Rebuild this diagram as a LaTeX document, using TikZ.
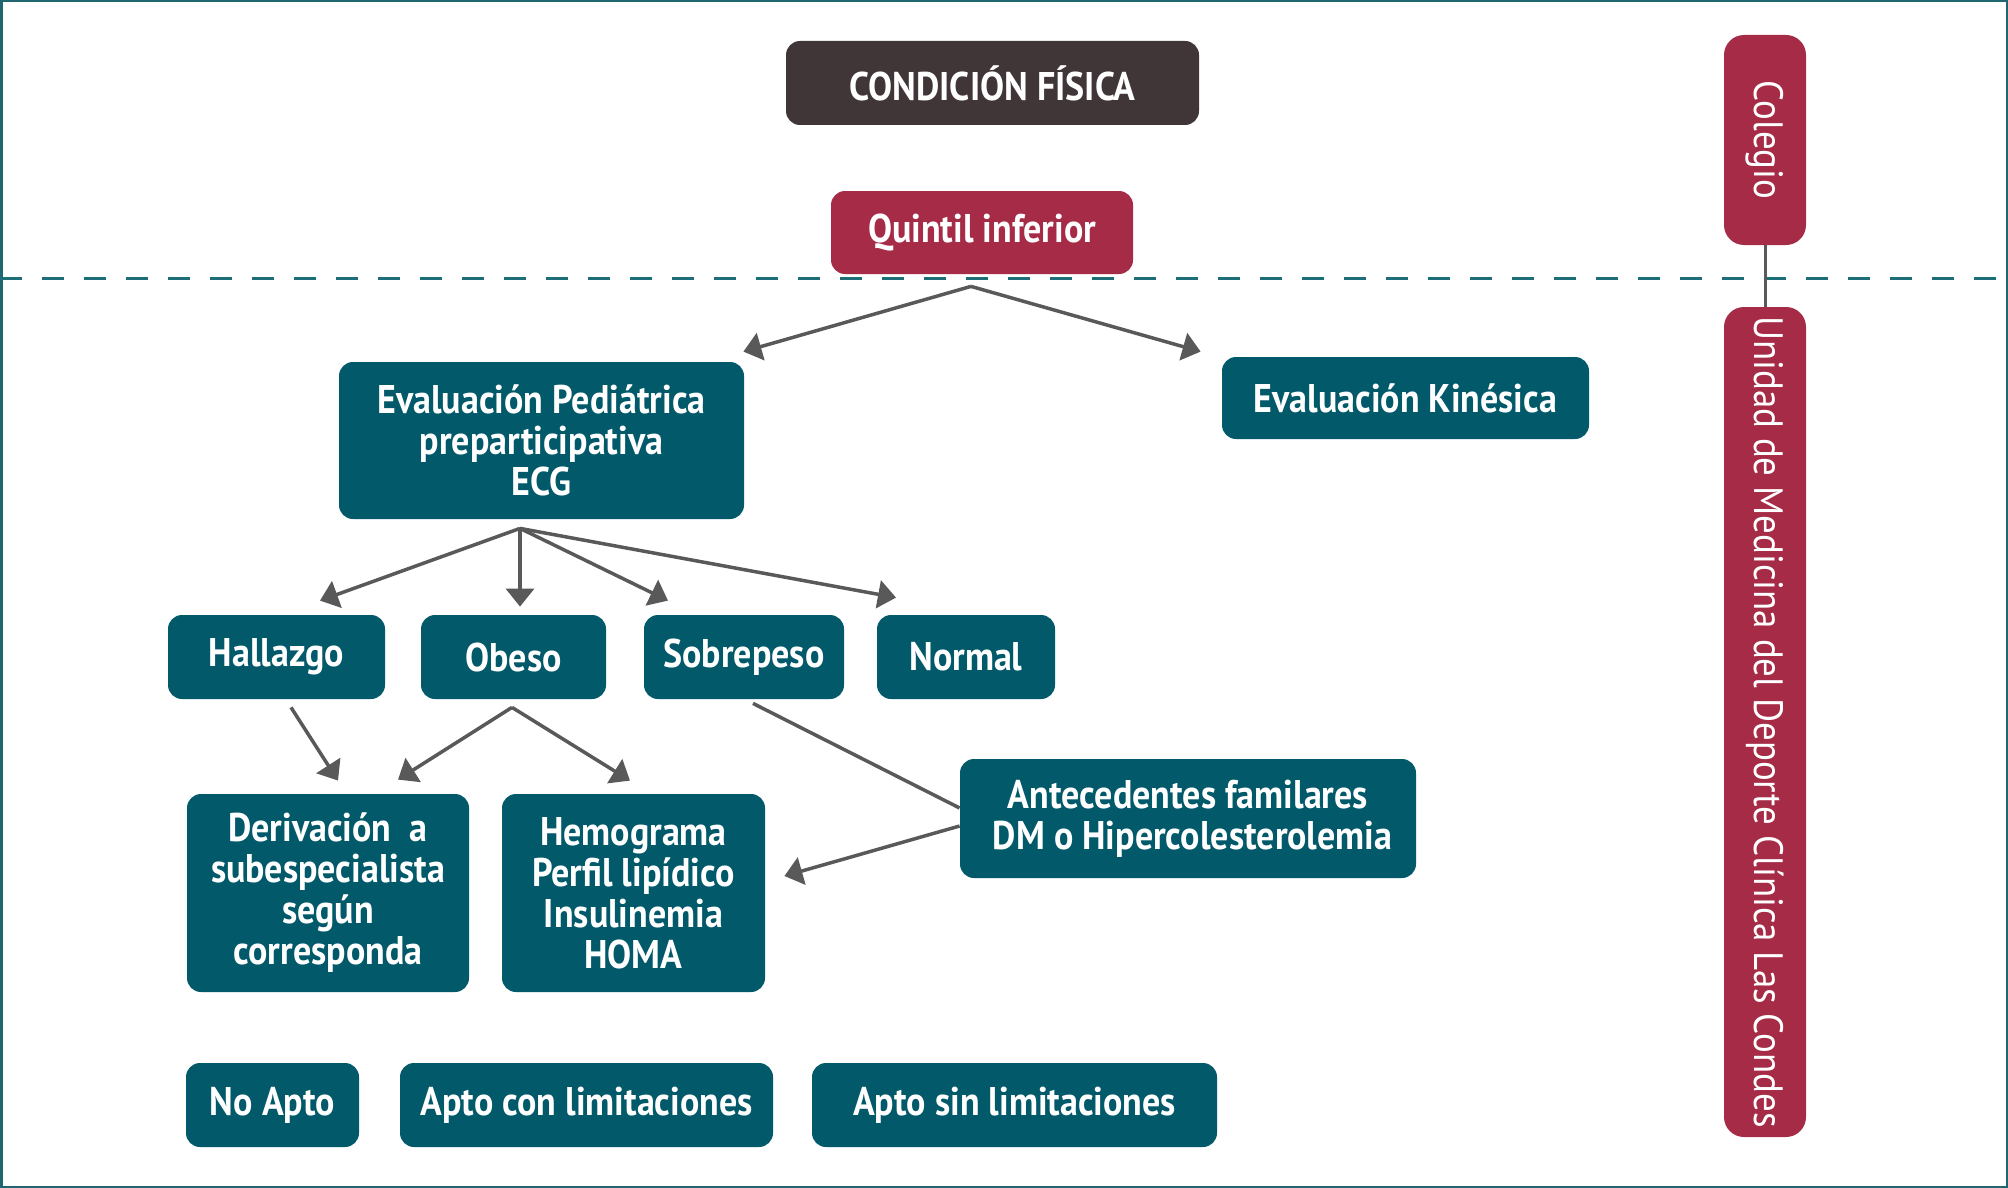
\documentclass[tikz,border=0pt]{standalone}
\usepackage{fontspec}
\setmainfont{PT Sans}[FakeStretch=0.9]
\newfontfamily\sidefont{PT Sans}[FakeStretch=0.9]
\usetikzlibrary{arrows.meta,calc}
\definecolor{tealc}{HTML}{02596A}
\definecolor{crimc}{HTML}{A62B46}
\definecolor{darkbc}{HTML}{403537}
\definecolor{arrowc}{HTML}{595959}
\definecolor{framec}{HTML}{1F6670}
\definecolor{dashc}{HTML}{1E6E78}
\tikzset{
  box/.style={fill=tealc, text=white, rounded corners=7pt, inner sep=0pt, align=center,
    font=\fontsize{20}{20.5}\selectfont\bfseries},
  redbox/.style={box, fill=crimc},
  sidebox/.style={fill=crimc, text=white, rounded corners=10pt, inner sep=0pt, rotate=-90,
    minimum height=41pt, font=\sidefont\fontsize{20.5}{22}\selectfont},
  conn/.style={draw=arrowc, line width=1.75pt},
  arw/.style={conn, -{Triangle[length=9pt,width=14pt]}},
}
\begin{document}
\begin{tikzpicture}[x=0.5pt,y=-0.5pt]
\useasboundingbox (0,0) rectangle (2008,1188);
\draw[framec, line width=1.5pt] (1,1) rectangle (2007,1187);
\draw[dashc, line width=1.5pt, dash pattern=on 11pt off 10pt] (0,278) -- (2008,278);

\node[box, fill=darkbc, minimum width=206.5pt, minimum height=42pt] (cond) at (992.5,83) {CONDICIÓN FÍSICA};
\node[redbox, minimum width=151pt, minimum height=41.5pt] (quin) at (982,232.5) {Quintil inferior};

\node[sidebox, minimum width=105pt] (coleg) at (1765,140) {Colegio};
\node[sidebox, minimum width=415pt] (unid) at (1765,722) {Unidad de Medicina del Deporte Clínica Las Condes};
\draw[conn, line width=1.5pt] (coleg.east) -- (unid.west);

\node[box, minimum width=202.5pt, minimum height=78.5pt] (evp) at (541.5,440.5) {Evaluación Pediátrica\\preparticipativa\\ECG};
\node[box, minimum width=183.5pt, minimum height=41pt] (evk) at (1405.5,398) {Evaluación Kinésica};

\node[box, minimum width=108.5pt, minimum height=42pt] (hall) at (276.5,657) {Hallazgo};
\node[box, minimum width=92.5pt, minimum height=42pt] (obeso) at (513.5,657) {Obeso};
\node[box, minimum width=100pt, minimum height=42pt] (sobre) at (744,657) {Sobrepeso};
\node[box, minimum width=89pt, minimum height=42pt] (normal) at (966,657) {Normal};

\node[box, minimum width=141pt, minimum height=99pt] (deriv) at (328,893) {Derivación\ \ a\\subespecialista\\según\\corresponda};
\node[box, minimum width=131.5pt, minimum height=99pt] (hemo) at (633.5,893) {Hemograma\\Perfil lipídico\\Insulinemia\\HOMA};
\node[box, minimum width=228pt, minimum height=59.5pt] (ante) at (1188,818.5) {Antecedentes familares\\\ DM o Hipercolesterolemia};

\node[box, minimum width=86.5pt, minimum height=42pt] (noapto) at (272.5,1105) {No Apto};
\node[box, minimum width=186.5pt, minimum height=42pt] (aptocon) at (586.5,1105) {Apto con limitaciones};
\node[box, minimum width=202.5pt, minimum height=42pt] (aptosin) at (1014.5,1105) {Apto sin limitaciones};

% connectors
\draw[arw] ($(quin.south)+(-11,12)$) -- ($(evp.north east)+(-1,-10)$);
\draw[arw] ($(quin.south)+(-11,12)$) -- ($(evk.north west)+(-21,-5)$);

\draw[arw] ($(evp.south)+(-21.5,9)$) -- ($(hall.north)+(43.5,-14)$);
\draw[arw] ($(evp.south)+(-21.5,9)$) -- ($(obeso.north)+(6.5,-8)$);
\draw[arw] ($(evp.south)+(-21.5,9)$) -- ($(sobre.north)+(-76,-14)$);
\draw[arw] ($(evp.south)+(-21.5,9)$) -- ($(normal.north)+(-70,-17)$);

\draw[arw] ($(hall.south)+(14.5,8)$) -- ($(deriv.north)+(10,-13)$);
\draw[arw] ($(obeso.south)+(-1.5,8)$) -- ($(deriv.north)+(70,-14)$);
\draw[arw] ($(obeso.south)+(-1.5,8)$) -- ($(hemo.north)+(-3.5,-13)$);

\draw[conn] ($(sobre.south)+(9,4)$) -- ($(ante.west)+(0,-10.5)$);
\draw[arw] ($(ante.west)+(0,7.5)$) -- ($(hemo.east)+(19,-17)$);
\end{tikzpicture}
\end{document}
